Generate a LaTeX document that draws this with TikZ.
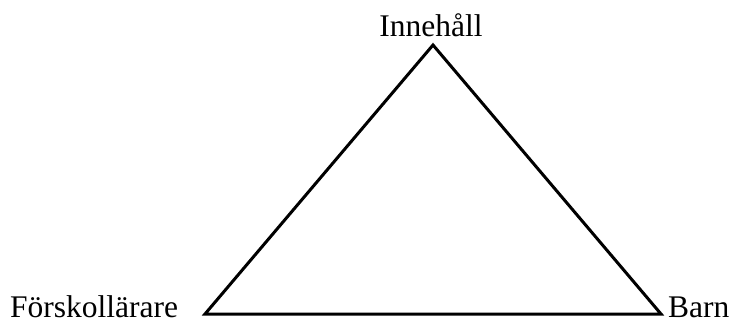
\documentclass[tikz,border=0pt]{standalone}
\usepackage{fontspec}
\setmainfont{Liberation Serif}
\begin{document}
\begin{tikzpicture}[x=1pt,y=1pt,
  lbl/.style={inner sep=0pt,text depth=0pt,font=\fontsize{31.5}{36}\selectfont},
  edge/.style={line width=3pt,line join=miter,black}]
\useasboundingbox (0,0) rectangle (733,322);
\coordinate (top) at (433,277);
\coordinate (bl) at (205,8);
\coordinate (br) at (661,8);
\node[lbl,anchor=base] (inn) at (431,285) {Innehåll};
\node[lbl,anchor=base west] (fk) at (10,4.5) {Förskollärare};
\node[lbl,anchor=base west] (barn) at (668,4.5) {Barn};
\draw[edge] (top) -- (br) -- (bl) -- cycle;
\end{tikzpicture}
\end{document}
